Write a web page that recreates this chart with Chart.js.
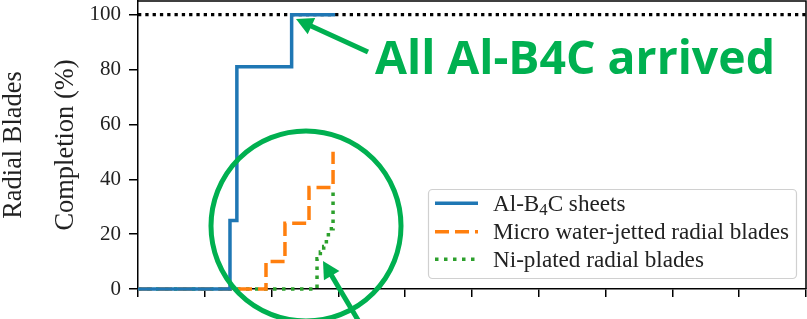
<!DOCTYPE html>
<html><head><meta charset="utf-8">
<script src="https://cdn.jsdelivr.net/npm/chart.js@4/dist/chart.umd.min.js"></script>
<style>html,body{margin:0;padding:0;background:#fff;overflow:hidden}canvas{display:block}</style>
</head><body>
<canvas id="c" width="807" height="319"></canvas>
<script>
// ---- data ----
const yTickValues = [0, 20, 40, 60, 80, 100];
const xTickValues = [0, 1, 2, 3, 4, 5, 6, 7, 8, 9, 10];
const alb4cX = [0, 1.377, 1.48, 2.30, 2.95];
const alb4cY = [0, 25, 81, 100, 100];
const microX = [0, 1.916, 2.20, 2.56, 2.92];
const microY = [0, 10, 24, 37, 50];
const niX = [0, 2.68, 2.73, 2.78, 2.82, 2.85, 2.92];
const niY = [0, 11, 13.5, 15.5, 18.5, 22, 36];
const targetX = [0, 10];
const targetY = [100, 100];
const legendLabels = ['Al-B_4C sheets', 'Micro water-jetted radial blades', 'Ni-plated radial blades'];
const yTitleLines = ['Radial Blades', 'Completion (%)'];
const calloutText = 'All Al-B4C arrived';

const pts = (xs, ys) => xs.map((x, i) => ({x: x, y: ys[i]}));
const BLUE = '#1f77b4', ORANGE = '#ff7f0e', GREEN = '#2ca02c', ANNOT = '#00b050';
const SERIF = '"Liberation Serif", "DejaVu Serif", serif';

function fitSize(ctx, text, family, weight, target) {
  ctx.font = weight + ' 100px ' + family;
  return 100 * target / ctx.measureText(text).width;
}

function arrow(ctx, x1, y1, x2, y2, sw, hl, hw) {
  const a = Math.atan2(y2 - y1, x2 - x1);
  const bx = x2 - hl * Math.cos(a), by = y2 - hl * Math.sin(a);
  ctx.beginPath();
  ctx.lineWidth = sw; ctx.lineCap = 'butt';
  ctx.moveTo(x1, y1); ctx.lineTo(bx + Math.cos(a), by + Math.sin(a)); ctx.stroke();
  ctx.beginPath();
  ctx.moveTo(x2, y2);
  ctx.lineTo(bx + hw * Math.sin(a), by - hw * Math.cos(a));
  ctx.lineTo(bx - hw * Math.sin(a), by + hw * Math.cos(a));
  ctx.closePath(); ctx.fill();
}

function drawRich(ctx, label, x, y, size) {
  let cx = x;
  const parts = label.split(/(_.)/);
  for (const p of parts) {
    if (!p) continue;
    if (p[0] === '_') {
      ctx.font = (size * 0.72) + 'px ' + SERIF;
      ctx.fillText(p[1], cx, y + size * 0.2);
      cx += ctx.measureText(p[1]).width;
    } else {
      ctx.font = size + 'px ' + SERIF;
      ctx.fillText(p, cx, y);
      cx += ctx.measureText(p).width;
    }
  }
}

const extras = {
  id: 'extras',
  afterDraw(chart) {
    const ctx = chart.ctx, a = chart.chartArea;
    ctx.save();
    ctx.strokeStyle = '#000'; ctx.lineWidth = 1.5;
    ctx.beginPath();
    ctx.moveTo(a.left, a.top); ctx.lineTo(a.right, a.top); ctx.lineTo(a.right, a.bottom);
    ctx.stroke();

    ctx.fillStyle = '#222';
    const cy = (a.top + a.bottom) / 2;
    const s1 = fitSize(ctx, yTitleLines[0], SERIF, '', 148);
    const s2 = fitSize(ctx, yTitleLines[1], SERIF, '', 171);
    const ts = (s1 + s2) / 2;
    ctx.font = ts + 'px ' + SERIF;
    ctx.textAlign = 'center'; ctx.textBaseline = 'alphabetic';
    ctx.save(); ctx.translate(21, cy); ctx.rotate(-Math.PI / 2); ctx.fillText(yTitleLines[0], 0, 0); ctx.restore();
    ctx.save(); ctx.translate(73, cy); ctx.rotate(-Math.PI / 2); ctx.fillText(yTitleLines[1], 0, 0); ctx.restore();

    const lx = 428.5, ly = 189.5, lw = 368, lh = 89, r = 4;
    ctx.beginPath();
    ctx.moveTo(lx + r, ly); ctx.lineTo(lx + lw - r, ly); ctx.arcTo(lx + lw, ly, lx + lw, ly + r, r);
    ctx.lineTo(lx + lw, ly + lh - r); ctx.arcTo(lx + lw, ly + lh, lx + lw - r, ly + lh, r);
    ctx.lineTo(lx + r, ly + lh); ctx.arcTo(lx, ly + lh, lx, ly + lh - r, r);
    ctx.lineTo(lx, ly + r); ctx.arcTo(lx, ly, lx + r, ly, r); ctx.closePath();
    ctx.fillStyle = 'rgba(255,255,255,0.85)'; ctx.fill();
    ctx.strokeStyle = '#d0d0d0'; ctx.lineWidth = 1.2; ctx.stroke();
    const styles = [
      {c: BLUE, d: []}, {c: ORANGE, d: [14, 6]}, {c: GREEN, d: [3.5, 5.5]}
    ];
    const sampleY = [203.3, 231.7, 259.3];
    const baseY = [210.5, 239, 266.5];
    const ls = fitSize(ctx, legendLabels[1], SERIF, '', 296);
    for (let i = 0; i < 3; i++) {
      ctx.beginPath(); ctx.strokeStyle = styles[i].c; ctx.lineWidth = 3.5; ctx.setLineDash(styles[i].d);
      ctx.lineCap = 'butt';
      ctx.moveTo(435, sampleY[i]); ctx.lineTo(478, sampleY[i]); ctx.stroke();
      ctx.setLineDash([]);
      ctx.fillStyle = '#222'; ctx.textAlign = 'left';
      drawRich(ctx, legendLabels[i], 493, baseY[i], ls);
    }

    ctx.strokeStyle = ANNOT; ctx.fillStyle = ANNOT;
    ctx.lineWidth = 5;
    ctx.beginPath(); ctx.ellipse(306, 226, 95, 95, 0, 0, Math.PI * 2); ctx.stroke();
    arrow(ctx, 368, 52, 296, 19, 5, 17, 9);
    arrow(ctx, 371, 342, 323, 261, 5, 17, 9);
    const fs = fitSize(ctx, calloutText, '"Open Sans", sans-serif', 'bold', 400);
    ctx.font = 'bold ' + fs + 'px "Open Sans", sans-serif';
    ctx.textAlign = 'left'; ctx.textBaseline = 'alphabetic';
    ctx.fillText(calloutText, 375, 73.5);
    ctx.restore();
  }
};

const common = {pointRadius: 0, pointHoverRadius: 0, fill: false, clip: false, borderWidth: 3.5, borderCapStyle: 'butt', borderJoinStyle: 'miter'};

new Chart(document.getElementById('c'), {
  type: 'line',
  data: {
    datasets: [
      Object.assign({label: 'Al-B4C sheets', data: pts(alb4cX, alb4cY), borderColor: BLUE, stepped: 'before'}, common),
      Object.assign({label: 'Micro water-jetted radial blades', data: pts(microX, microY), borderColor: ORANGE, borderDash: [14, 6], stepped: 'before'}, common),
      Object.assign({label: 'Ni-plated radial blades', data: pts(niX, niY), borderColor: GREEN, borderDash: [3.5, 5.5], stepped: 'before'}, common),
      Object.assign({label: 'Target', data: pts(targetX, targetY), borderColor: '#000', borderDash: [3.3, 4]}, common, {borderWidth: 3.3})
    ]
  },
  options: {
    responsive: false, animation: false, devicePixelRatio: 1,
    layout: {padding: {top: 1, right: 1, left: 0, bottom: 0}},
    plugins: {legend: {display: false}, tooltip: {enabled: false}},
    events: [],
    scales: {
      x: {
        type: 'linear', min: 0, max: 10,
        afterBuildTicks: s => { s.ticks = xTickValues.map(v => ({value: v})); },
        afterFit: s => { s.height = 30; s.paddingLeft = 0; s.paddingRight = 0; },
        ticks: {display: false},
        grid: {drawOnChartArea: false, drawTicks: true, tickLength: 8, color: '#000', lineWidth: 1.5},
        border: {display: true, color: '#000', width: 1.5}
      },
      y: {
        type: 'linear', min: 0, max: 105,
        afterBuildTicks: s => { s.ticks = yTickValues.map(v => ({value: v})); },
        afterFit: s => { s.width = 138; s.paddingTop = 0; s.paddingBottom = 0; },
        ticks: {color: '#222', font: {family: SERIF, size: 21}, padding: 8},
        grid: {drawOnChartArea: false, drawTicks: true, tickLength: 9, color: '#000', lineWidth: 1.5},
        border: {display: true, color: '#000', width: 1.5}
      }
    }
  },
  plugins: [extras]
});
</script></body></html>
